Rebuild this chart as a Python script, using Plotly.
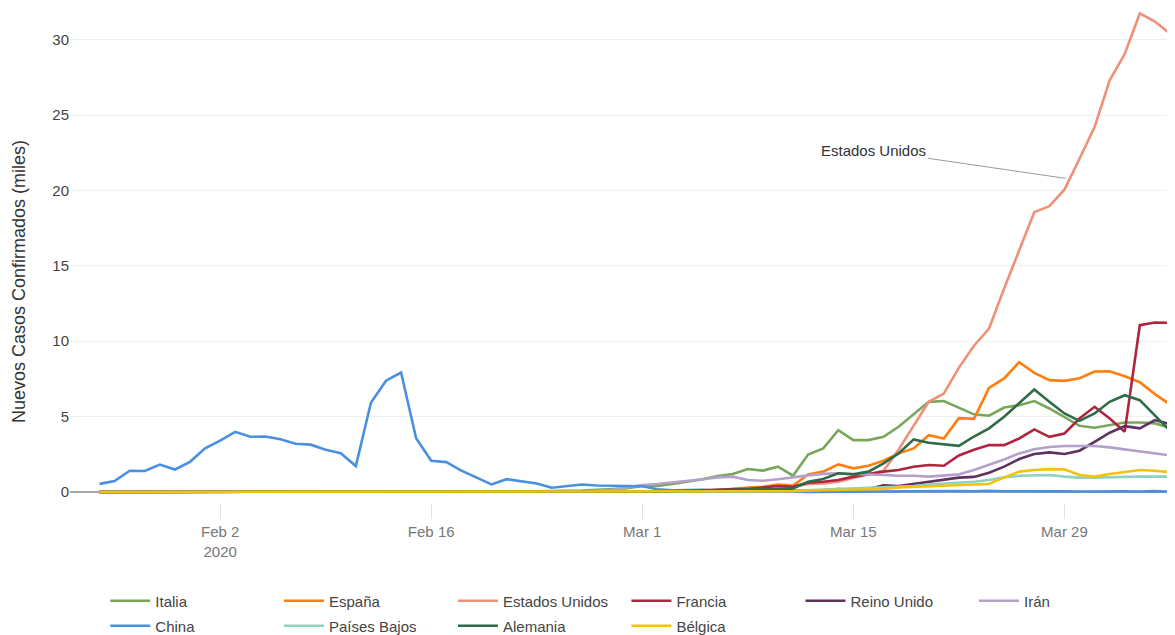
import pandas as pd
import plotly.graph_objects as go

# Dates (daily, 25 Jan 2020 .. 5 Apr 2020)
dates = pd.date_range("2020-01-25", "2020-04-05", freq="D")

# Daily new confirmed cases (thousands)
italia = [0, 0, 0, 0, 0, 0, 0, 0, 0, 0, 0, 0,
          0, 0, 0, 0, 0, 0, 0, 0, 0, 0, 0, 0,
          0, 0, 0, 0, 0.02, 0.05, 0.07, 0.08, 0.10, 0.15, 0.20, 0.25,
          0.40, 0.40, 0.53, 0.68, 0.84, 1.06, 1.19, 1.52, 1.42, 1.68, 1.08, 2.49,
          2.89, 4.10, 3.44, 3.44, 3.66, 4.33, 5.17, 5.98, 6.03, 5.57, 5.15, 5.06,
          5.60, 5.76, 6.03, 5.54, 4.99, 4.39, 4.26, 4.44, 4.61, 4.61, 4.55, 4.26]
espana = [0, 0, 0, 0, 0, 0, 0, 0, 0, 0, 0, 0,
          0, 0, 0, 0, 0, 0, 0, 0, 0, 0, 0, 0,
          0, 0, 0, 0, 0, 0, 0, 0, 0.01, 0.01, 0.01, 0.02,
          0.02, 0.03, 0.05, 0.05, 0.08, 0.12, 0.20, 0.30, 0.35, 0.50, 0.42, 1.17,
          1.35, 1.83, 1.57, 1.74, 2.08, 2.56, 2.89, 3.77, 3.55, 4.90, 4.85, 6.91,
          7.53, 8.61, 7.90, 7.42, 7.37, 7.55, 7.99, 8.01, 7.68, 7.28, 6.49, 5.81]
estados_unidos = [0, 0, 0, 0, 0, 0, 0, 0, 0, 0, 0, 0,
                  0, 0, 0, 0, 0, 0, 0, 0, 0, 0, 0, 0,
                  0, 0, 0, 0, 0, 0, 0, 0, 0, 0, 0.01, 0.01,
                  0.01, 0.02, 0.03, 0.03, 0.05, 0.06, 0.08, 0.10, 0.15, 0.24, 0.35, 0.53,
                  0.57, 0.68, 0.90, 1.17, 1.40, 2.80, 4.40, 5.98, 6.53, 8.25, 9.70, 10.84,
                  13.50, 16.00, 18.56, 18.96, 20.05, 22.10, 24.20, 27.30, 29.05, 31.75, 31.20, 30.40]
francia = [0, 0, 0, 0, 0, 0, 0, 0, 0, 0, 0, 0,
           0, 0, 0, 0, 0, 0, 0, 0, 0, 0, 0, 0,
           0, 0, 0, 0, 0, 0, 0, 0, 0, 0.01, 0.02, 0.03,
           0.05, 0.05, 0.05, 0.08, 0.10, 0.15, 0.20, 0.20, 0.30, 0.40, 0.35, 0.62,
           0.68, 0.79, 1.02, 1.19, 1.35, 1.46, 1.68, 1.79, 1.74, 2.42, 2.80, 3.11,
           3.11, 3.55, 4.15, 3.66, 3.88, 4.87, 5.65, 4.87, 4.00, 11.06, 11.24, 11.22]
reino_unido = [0, 0, 0, 0, 0, 0, 0, 0, 0, 0, 0, 0,
               0, 0, 0, 0, 0, 0, 0, 0, 0, 0, 0, 0,
               0, 0, 0, 0, 0, 0, 0, 0, 0, 0, 0, 0.01,
               0.01, 0.01, 0.01, 0.02, 0.02, 0.03, 0.04, 0.05, 0.05, 0.07, 0.08, 0.10,
               0.12, 0.20, 0.15, 0.20, 0.45, 0.40, 0.55, 0.65, 0.80, 0.95, 1.00, 1.28,
               1.68, 2.19, 2.52, 2.63, 2.52, 2.74, 3.33, 3.93, 4.37, 4.22, 4.77, 4.50]
iran = [0, 0, 0, 0, 0, 0, 0, 0, 0, 0, 0, 0,
        0, 0, 0, 0, 0, 0, 0, 0, 0, 0, 0, 0,
        0, 0, 0, 0, 0.01, 0.02, 0.02, 0.03, 0.05, 0.10, 0.15, 0.30,
        0.46, 0.53, 0.62, 0.73, 0.84, 0.97, 1.02, 0.80, 0.75, 0.85, 1.00, 1.10,
        1.20, 1.24, 1.19, 1.17, 1.13, 1.08, 1.08, 1.02, 1.08, 1.17, 1.46, 1.79,
        2.16, 2.56, 2.83, 2.98, 3.05, 3.05, 3.05, 2.96, 2.83, 2.67, 2.56, 2.43]
china = [0.54, 0.73, 1.41, 1.39, 1.82, 1.49, 2.00, 2.90, 3.40, 3.99, 3.66, 3.68,
         3.50, 3.20, 3.14, 2.80, 2.57, 1.72, 5.92, 7.38, 7.92, 3.56, 2.07, 1.98,
         1.42, 0.94, 0.50, 0.85, 0.73, 0.57, 0.28, 0.38, 0.50, 0.43, 0.42, 0.42,
         0.38, 0.18, 0.12, 0.13, 0.14, 0.10, 0.04, 0.04, 0.02, 0.03, 0.02, 0.01,
         0.02, 0.02, 0.02, 0.03, 0.04, 0.05, 0.04, 0.05, 0.05, 0.07, 0.05, 0.08,
         0.05, 0.06, 0.06, 0.05, 0.04, 0.03, 0.05, 0.04, 0.04, 0.03, 0.06, 0.03]
paises_bajos = [0, 0, 0, 0, 0, 0, 0, 0, 0, 0, 0, 0,
                0, 0, 0, 0, 0, 0, 0, 0, 0, 0, 0, 0,
                0, 0, 0, 0, 0, 0, 0, 0, 0, 0, 0, 0,
                0.00, 0.01, 0.01, 0.01, 0.02, 0.03, 0.03, 0.04, 0.05, 0.05, 0.08, 0.12,
                0.15, 0.18, 0.20, 0.28, 0.30, 0.35, 0.40, 0.50, 0.55, 0.62, 0.68, 0.79,
                0.97, 1.08, 1.13, 1.13, 1.02, 0.95, 0.95, 0.95, 1.00, 1.02, 1.02, 1.02]
alemania = [0, 0, 0, 0, 0, 0, 0, 0, 0, 0, 0, 0,
            0, 0, 0, 0, 0, 0, 0, 0, 0, 0, 0, 0,
            0, 0, 0, 0, 0, 0, 0, 0.01, 0.01, 0.01, 0.02, 0.02,
            0.02, 0.05, 0.05, 0.08, 0.10, 0.12, 0.15, 0.20, 0.20, 0.18, 0.24, 0.68,
            0.86, 1.24, 1.17, 1.35, 1.90, 2.56, 3.49, 3.27, 3.16, 3.06, 3.68, 4.22,
            4.99, 5.87, 6.80, 5.98, 5.21, 4.72, 5.21, 5.98, 6.42, 6.09, 5.10, 4.06]
belgica = [0, 0, 0, 0, 0, 0, 0, 0, 0, 0, 0, 0,
           0, 0, 0, 0, 0, 0, 0, 0, 0, 0, 0, 0,
           0, 0, 0, 0, 0, 0, 0, 0, 0, 0, 0, 0,
           0.00, 0.00, 0.01, 0.01, 0.02, 0.02, 0.03, 0.03, 0.04, 0.04, 0.05, 0.10,
           0.12, 0.15, 0.18, 0.20, 0.20, 0.30, 0.35, 0.40, 0.45, 0.48, 0.50, 0.53,
           0.97, 1.35, 1.46, 1.52, 1.50, 1.13, 1.02, 1.19, 1.35, 1.46, 1.41, 1.32]

names = ["Italia", "España", "Estados Unidos", "Francia", "Reino Unido", "Irán",
         "China", "Países Bajos", "Alemania", "Bélgica"]
series = [italia, espana, estados_unidos, francia, reino_unido, iran,
          china, paises_bajos, alemania, belgica]
colors = ["#78a75a", "#ff7f0e", "#ef9079", "#b0243f", "#5e3160", "#b3a1cb",
          "#4a90e2", "#8ed2c0", "#2e6b47", "#f4c20d"]

FONT = "Liberation Sans, Arial, Helvetica, sans-serif"

W, H = 1175, 635
OFF = 8  # page body margin offset
ml, mr, mt, mb = 62, 8, 0, 140
pw, ph = W - ml - mr, H - mt - mb

# legend slot positions (page px: start of the line symbol; row centre)
leg_cols_px = [111.3, 285, 459, 632.4, 806.5, 980]
leg_rows_px = [601, 626]
leg_slots = [(0, 0), (1, 0), (2, 0), (3, 0), (4, 0), (5, 0),
             (0, 1), (1, 1), (2, 1), (3, 1)]

fig = go.Figure()
for i, (nm, ys, col) in enumerate(zip(names, series, colors)):
    lg = "legend" if i == 0 else f"legend{i + 1}"
    fig.add_trace(go.Scatter(
        x=dates, y=ys, name=nm, mode="lines",
        line=dict(color=col, width=2.6),
        legend=lg, hoverinfo="x+y+name",
    ))

legends = {}
for i, (c, r) in enumerate(leg_slots):
    key = "legend" if i == 0 else f"legend{i + 1}"
    xpx = leg_cols_px[c] - 6 - OFF
    ypx = leg_rows_px[r] - OFF
    legends[key] = dict(
        xref="container", yref="container",
        x=xpx / W, y=1 - ypx / H,
        xanchor="left", yanchor="middle",
        orientation="h", bgcolor="rgba(0,0,0,0)",
        font=dict(family=FONT, size=15, color="#444"),
        itemwidth=40,
    )

# y-axis title drawn as rotated text (page px centre 19, 282)
title_x = (19 - OFF - ml) / pw
title_y = (mt + ph - (282 - OFF)) / ph

fig.update_layout(
    width=W, height=H,
    margin=dict(l=ml, r=mr, t=mt, b=mb, autoexpand=False),
    paper_bgcolor="white", plot_bgcolor="white",
    font=dict(family=FONT, size=15, color="#444"),
    showlegend=True,
    **legends,
    xaxis=dict(
        type="date", automargin=False,
        range=["2020-01-23 01:00", "2020-04-05 08:00"],
        tick0="2020-02-02", dtick=14 * 24 * 3600 * 1000,
        showgrid=False, zeroline=False, showline=False,
        ticks="outside", ticklen=15, tickcolor="#e2e2e2", tickwidth=1,
        tickfont=dict(family=FONT, size=15, color="#777"),
    ),
    yaxis=dict(
        automargin=False,
        range=[-0.73, 32.1],
        tickvals=[0, 5, 10, 15, 20, 25, 30],
        showgrid=True, gridcolor="#efefef", gridwidth=1,
        zeroline=True, zerolinecolor="#a6a6a6", zerolinewidth=2,
        showline=False,
        tickfont=dict(family=FONT, size=15, color="#444"),
    ),
    annotations=[
        dict(
            x="2020-03-29 02:00", y=20.8, xref="x", yref="y",
            text="Estados Unidos", showarrow=True, arrowhead=0,
            arrowwidth=1, arrowcolor="#9a9a9a", ax=-192, ay=-28,
            font=dict(family=FONT, size=15, color="#333"),
        ),
        dict(
            x=title_x, y=title_y, xref="paper", yref="paper",
            text="Nuevos Casos Confirmados (miles)", showarrow=False,
            textangle=-90, xanchor="center", yanchor="middle",
            font=dict(family=FONT, size=18, color="#333"),
        ),
    ],
)

fig.write_html("out.html")
